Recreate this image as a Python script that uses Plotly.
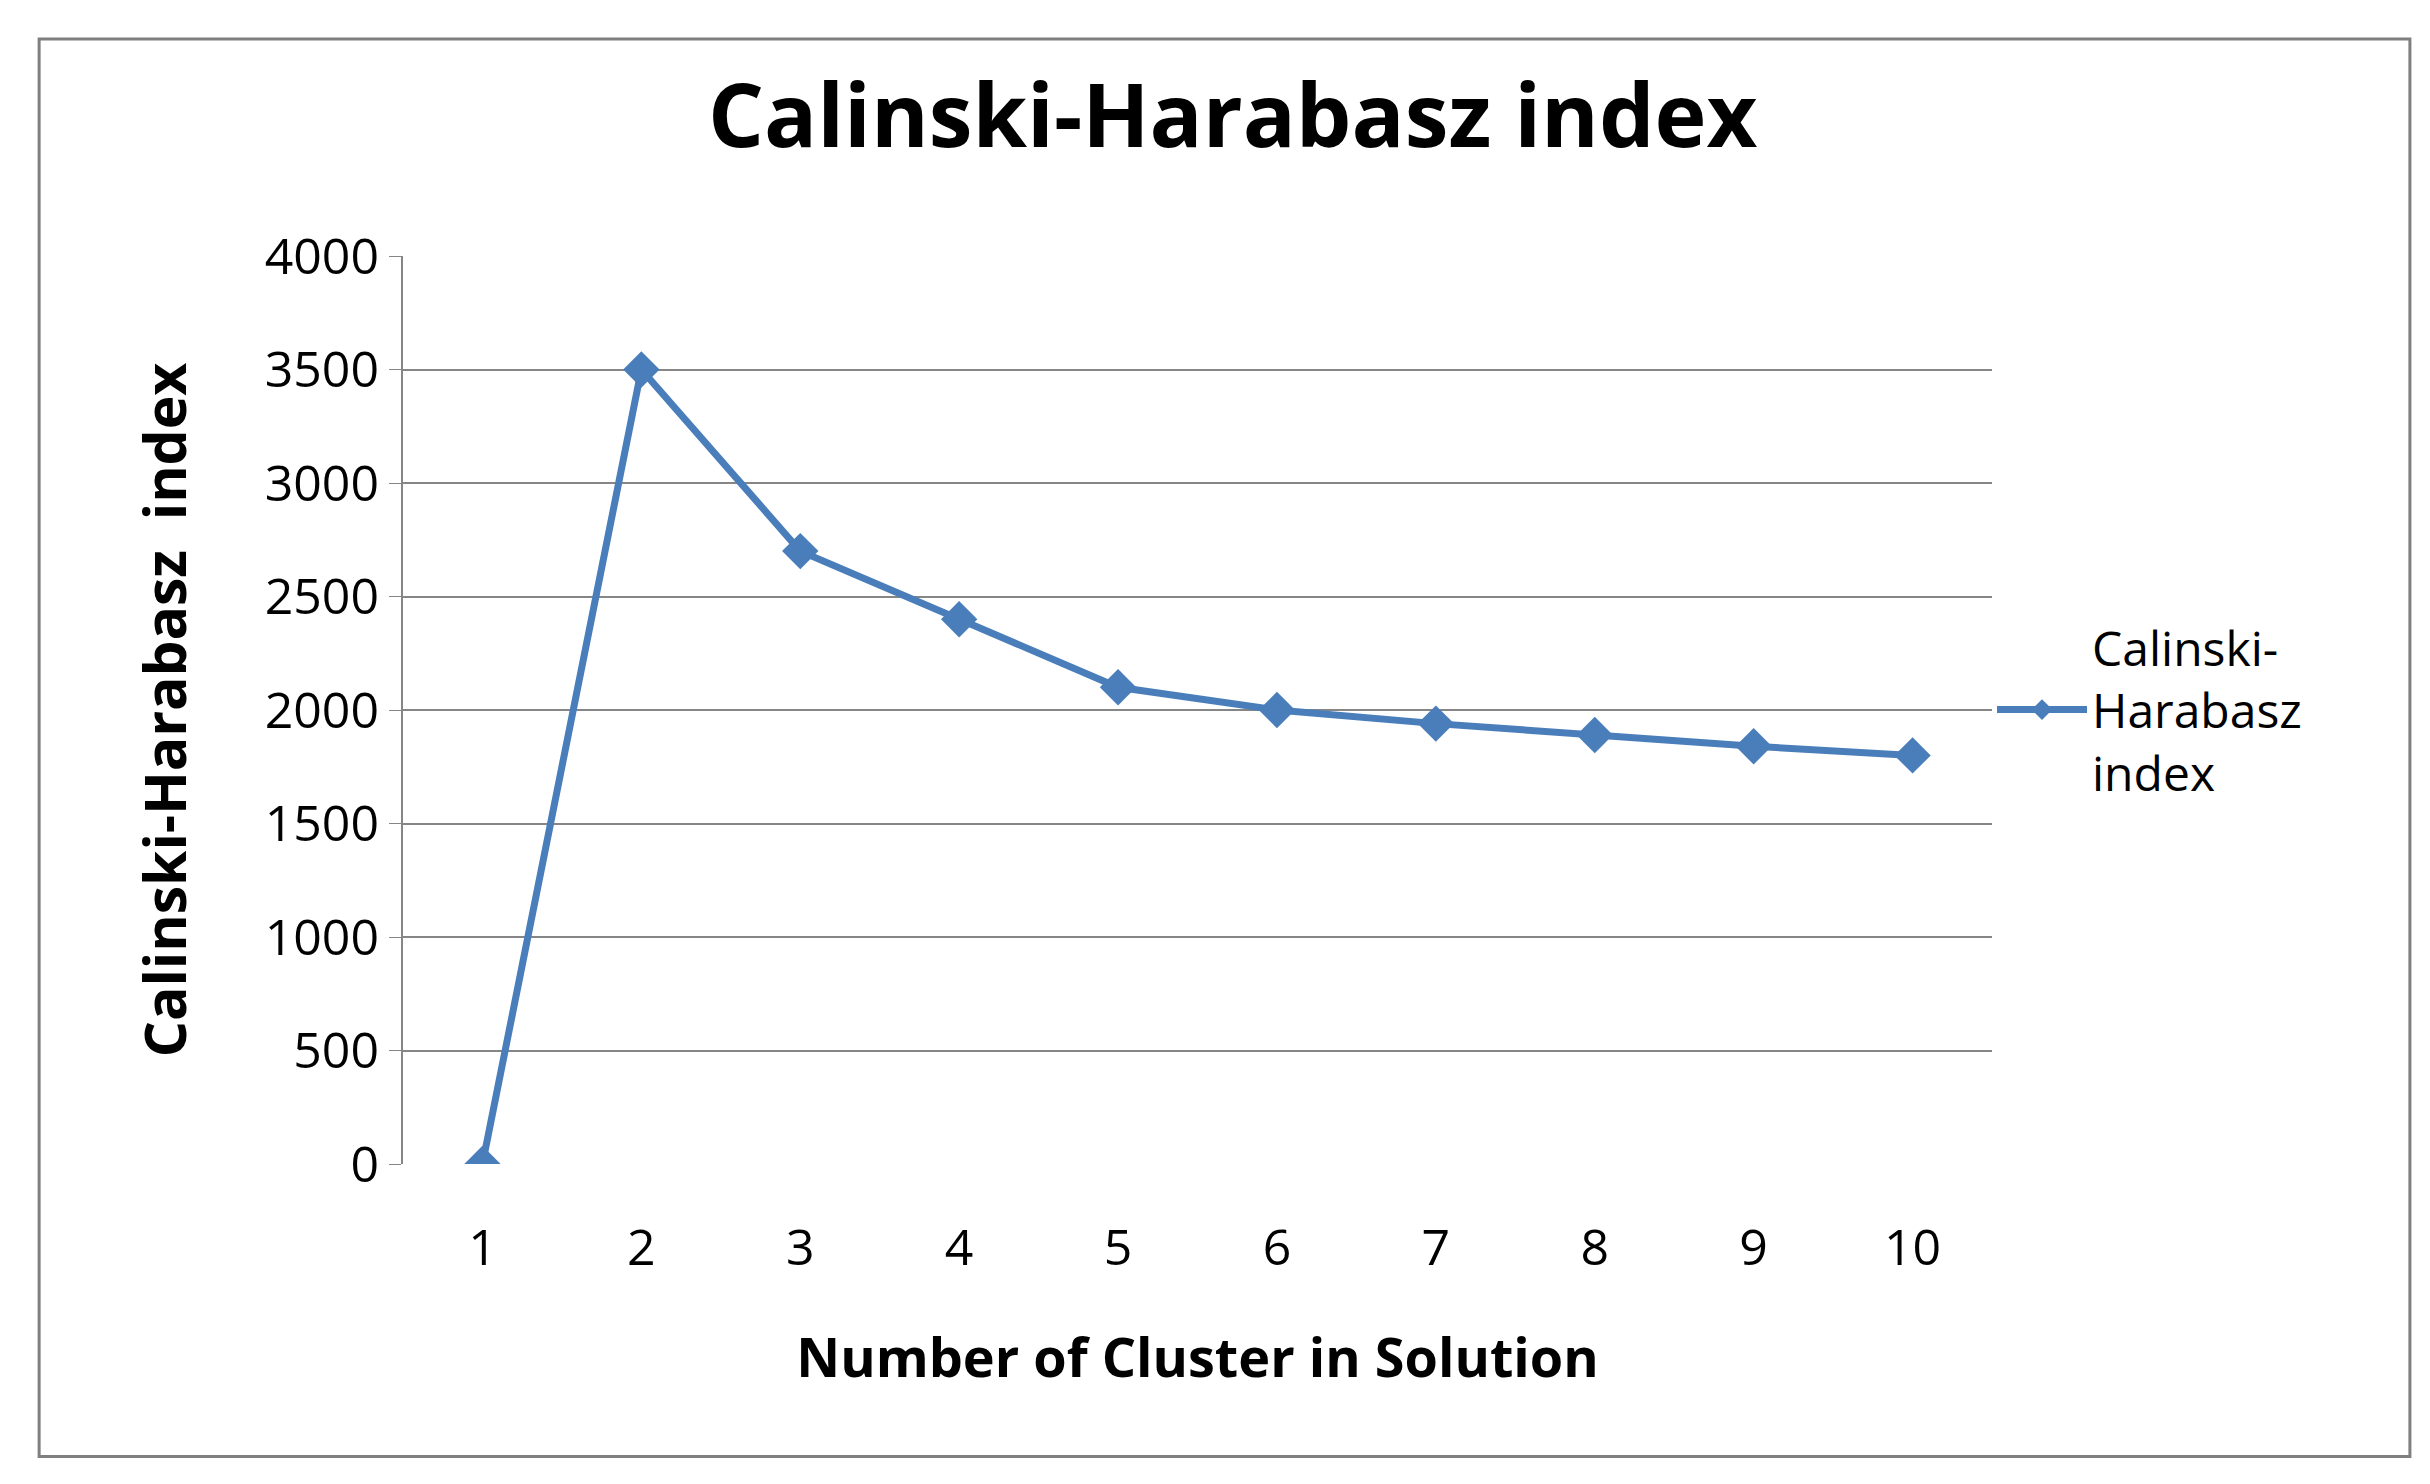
import plotly.graph_objects as go

clusters = [1, 2, 3, 4, 5, 6, 7, 8, 9, 10]
ch_index = [0, 3500, 2700, 2400, 2100, 2000, 1940, 1890, 1840, 1800]
y_ticks = [0, 500, 1000, 1500, 2000, 2500, 3000, 3500, 4000]

blue = "#4A7EBB"
font = "Open Sans"

fig = go.Figure()
fig.add_trace(go.Scatter(
    x=clusters, y=ch_index, mode="lines+markers",
    name="Calinski-<br>Harabasz<br>index",
    line=dict(color=blue, width=7),
    marker=dict(symbol="diamond", size=28, color=blue),
))

fig.update_layout(
    width=2430, height=1484,
    showlegend=True,
    paper_bgcolor="white", plot_bgcolor="white",
    margin=dict(l=395, r=446, t=248, b=328),
    title=dict(text="<b>Calinski-Harabasz index</b>", x=0.504, xanchor="center",
               y=0.927, yanchor="middle", font=dict(family=font, size=88, color="black")),
    font=dict(family=font, color="black"),
    xaxis=dict(range=[0.5, 10.5], tickvals=clusters, ticks="", showgrid=False,
               showline=False, zeroline=False, tickfont=dict(size=50),
               ticklabelstandoff=50,
               title=dict(text="<b>Number of Cluster in Solution</b>", font=dict(size=54), standoff=60)),
    yaxis=dict(range=[0, 4000], tickvals=y_ticks, showgrid=True, gridcolor="#868686",
               gridwidth=2, showline=True, linecolor="#868686", linewidth=2,
               ticks="outside", ticklen=12, tickcolor="#868686", zeroline=False,
               tickfont=dict(size=50),
               title=dict(text="<b>Calinski-Harabasz  index</b>", font=dict(size=57), standoff=60)),
    legend=dict(x=1.0, y=0.5, xanchor="left", yanchor="middle",
                font=dict(size=48), itemwidth=90),
    shapes=[dict(type="rect", xref="paper", yref="paper", x0=-0.229, x1=1.263, y0=-0.322, y1=1.239,
                 line=dict(color="#7F7F7F", width=3))],
)

fig.write_html("out.html")
